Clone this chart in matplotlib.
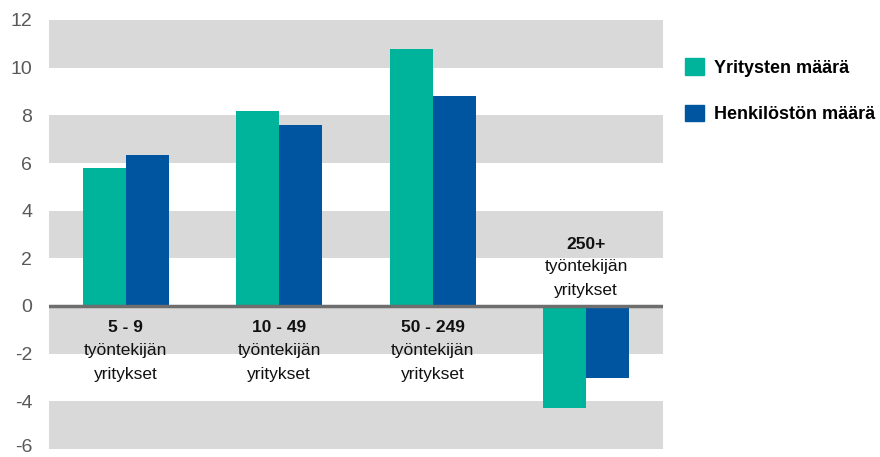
import matplotlib
matplotlib.use("Agg")
import matplotlib.pyplot as plt
import matplotlib.transforms as mtransforms
from matplotlib.patches import Patch
import numpy as np

plt.rcParams['font.family'] = ['Liberation Sans', 'DejaVu Sans']

categories_bold = ["5 - 9", "10 - 49", "50 - 249", "250+"]
categories_rest = ["työntekijän\nyritykset"] * 4
series_names = ["Yritysten määrä", "Henkilöstön määrä"]
yritysten = [5.8, 8.2, 10.8, -4.3]
henkiloston = [6.35, 7.6, 8.8, -3.0]
yticks = [-6, -4, -2, 0, 2, 4, 6, 8, 10, 12]

teal = "#00b39b"
blue = "#0055a0"
band = "#d9d9d9"

fig = plt.figure(figsize=(8.8, 4.57), dpi=100)
ax = fig.add_axes([49/880, 1-449/457, (663-49)/880, (449-20)/457])

x = np.arange(len(categories_bold))
w = 0.28
ax.bar(x - w/2, yritysten, w, color=teal, zorder=3)
ax.bar(x + w/2, henkiloston, w, color=blue, zorder=3)

for lo in [10, 6, 2, -2, -6]:
    ax.axhspan(lo, lo + 2, color=band, lw=0, zorder=0)
ax.axhline(0, color="#6e6e6e", lw=2.5, zorder=4)

ax.set_xlim(-0.5, 3.5)
ax.set_ylim(-6, 12)
ax.set_yticks(yticks)
ax.set_yticklabels([str(t) for t in yticks], color="#595959", fontsize=14)
ax.tick_params(axis='y', length=0, pad=12)
ax.set_xticks([])
for s in ax.spines.values():
    s.set_visible(False)

# keep lowest tick label inside the canvas
lowest = ax.get_yticklabels()[0]
lowest.set_transform(lowest.get_transform() +
                     mtransforms.ScaledTranslation(0, 3/100, fig.dpi_scale_trans))

fs = 12.5
for i, (b, r) in enumerate(zip(categories_bold, categories_rest)):
    lines = r.split("\n")
    if yritysten[i] >= 0:
        offs = [-21, -45, -69]
    else:
        offs = [62, 39, 16]
    ax.annotate(b, (i, 0), xytext=(0, offs[0]), textcoords='offset pixels',
                ha='center', va='center', fontsize=fs, fontweight='bold', color='#111111')
    for ln, o in zip(lines, offs[1:]):
        ax.annotate(ln, (i, 0), xytext=(0, o), textcoords='offset pixels',
                    ha='center', va='center', fontsize=fs, color='#111111')

handles = [Patch(color=teal), Patch(color=blue)]
fig.legend(handles, series_names, loc='upper left', bbox_to_anchor=(685/880, 1-58/457),
           frameon=False, prop={'weight': 'bold', 'size': 13},
           handlelength=1.05, handleheight=1.05, handletextpad=0.55, labelspacing=1.55,
           borderaxespad=0, borderpad=0)

fig.savefig("out.png", dpi=100)
